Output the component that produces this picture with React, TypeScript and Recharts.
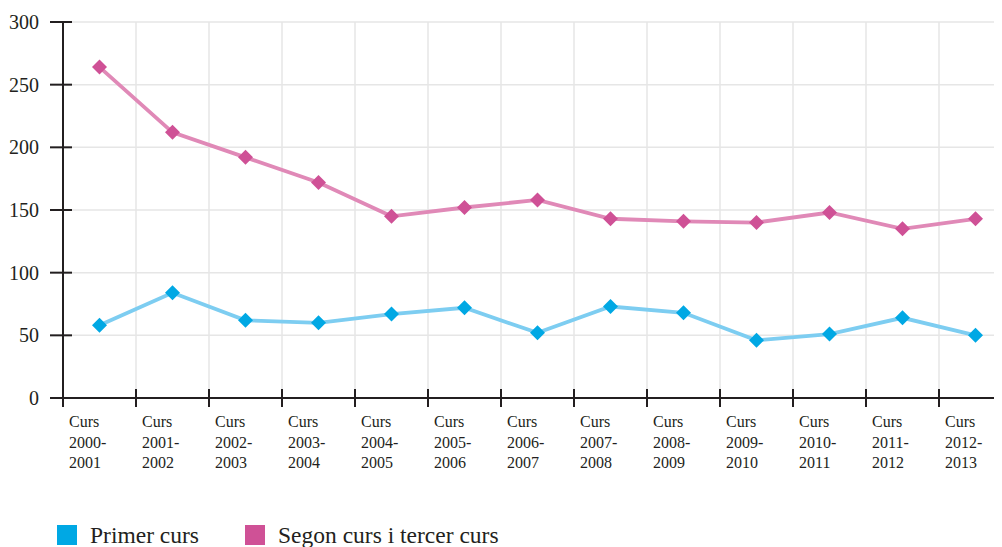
import { CartesianGrid, Legend, Line, LineChart, XAxis, YAxis } from 'recharts';

const categories = [
  'Curs 2000-2001',
  'Curs 2001-2002',
  'Curs 2002-2003',
  'Curs 2003-2004',
  'Curs 2004-2005',
  'Curs 2005-2006',
  'Curs 2006-2007',
  'Curs 2007-2008',
  'Curs 2008-2009',
  'Curs 2009-2010',
  'Curs 2010-2011',
  'Curs 2011-2012',
  'Curs 2012-2013',
];

const primerCurs = [58, 84, 62, 60, 67, 72, 52, 73, 68, 46, 51, 64, 50];
const segonTercerCurs = [264, 212, 192, 172, 145, 152, 158, 143, 141, 140, 148, 135, 143];

const yTicks = [0, 50, 100, 150, 200, 250, 300];
const xTicks = categories.map((_, i) => i).concat(categories.length);

const seriesNames = ['Primer curs', 'Segon curs i tercer curs'];

const INK = '#231f20';
const FONT = '"Liberation Serif", "DejaVu Serif", serif';
const BLUE_LINE = '#7dcdf1';
const BLUE_DOT = '#00a8e4';
const PINK_LINE = '#e089b7';
const PINK_DOT = '#cf5196';

const rows = categories.map((cat, i) => ({
  x: i + 0.5,
  cat,
  primer: primerCurs[i],
  segon: segonTercerCurs[i],
}));

// "Curs 2000-2001" -> ["Curs", "2000-", "2001"]
function labelLines(label: string) {
  const [word, years] = label.split(' ');
  const [a, b] = years.split('-');
  return [word, a + '-', b];
}

function XTick({ x, y, payload }: any) {
  const i = payload.value as number;
  const lines = i < categories.length ? labelLines(categories[i]) : null;
  return (
    <g>
      <line x1={x} x2={x} y1={y - 9} y2={y + 9} stroke={INK} strokeWidth={2} />
      {lines && (
        <text x={x + 6} y={y} fill={INK} fontSize={16} style={{ fontFamily: FONT }} textAnchor="start">
          {lines.map((l, k) => (
            <tspan key={k} x={x + 6} y={y + 29 + k * 20.5}>
              {l}
            </tspan>
          ))}
        </text>
      )}
    </g>
  );
}

function YTick({ x, y, payload }: any) {
  return (
    <g>
      <line x1={x - 13} x2={x + 9} y1={y} y2={y} stroke={INK} strokeWidth={2} />
      <text x={x - 24} y={y} dy={7} fill={INK} fontSize={20} style={{ fontFamily: FONT }} textAnchor="end">
        {payload.value}
      </text>
    </g>
  );
}

const diamond = (fill: string) => (props: any) => {
  const { cx, cy, index } = props;
  const r = 7.5;
  return (
    <path
      key={index}
      d={`M${cx} ${cy - r}L${cx + r} ${cy}L${cx} ${cy + r}L${cx - r} ${cy}Z`}
      fill={fill}
    />
  );
};

function LegendContent() {
  const colors = [BLUE_DOT, PINK_DOT];
  return (
    <div style={{ display: 'flex', alignItems: 'center', height: 24, paddingLeft: 49 }}>
      {seriesNames.map((name, i) => (
        <div key={name} style={{ display: 'flex', alignItems: 'center', width: 188, whiteSpace: 'nowrap' }}>
          <span style={{ width: 20, height: 20, background: colors[i], display: 'inline-block', flex: 'none' }} />
          <span
            style={{
              marginLeft: 13,
              fontFamily: FONT,
              fontSize: 23.5,
              lineHeight: '24px',
              color: INK,
            }}
          >
            {name}
          </span>
        </div>
      ))}
    </div>
  );
}

export default function App() {
  return (
    <div style={{ width: 994, height: 539, overflow: 'hidden' }}>
      <LineChart width={1004} height={539} data={rows} margin={{ top: 14, right: 0, left: 0, bottom: 0 }}>
        <CartesianGrid stroke="#e6e6e6" strokeWidth={1.5} />
        <XAxis
          dataKey="x"
          type="number"
          domain={[0, categories.length]}
          ticks={xTicks}
          interval={0}
          height={125}
          tickSize={0}
          tickMargin={0}
          tickLine={false}
          axisLine={{ stroke: INK, strokeWidth: 2 }}
          tick={<XTick />}
        />
        <YAxis
          type="number"
          domain={[0, 300]}
          ticks={yTicks}
          interval={0}
          width={55}
          tickSize={0}
          tickMargin={0}
          tickLine={false}
          axisLine={{ stroke: INK, strokeWidth: 2 }}
          tick={<YTick />}
        />
        <Legend
          verticalAlign="bottom"
          align="left"
          content={<LegendContent />}
          wrapperStyle={{ left: 0, bottom: 0, width: 994, height: 24 }}
        />
        <Line
          name={seriesNames[0]}
          dataKey="primer"
          type="linear"
          stroke={BLUE_LINE}
          strokeWidth={3.8}
          dot={diamond(BLUE_DOT)}
          activeDot={false}
          isAnimationActive={false}
        />
        <Line
          name={seriesNames[1]}
          dataKey="segon"
          type="linear"
          stroke={PINK_LINE}
          strokeWidth={3.8}
          dot={diamond(PINK_DOT)}
          activeDot={false}
          isAnimationActive={false}
        />
      </LineChart>
    </div>
  );
}
